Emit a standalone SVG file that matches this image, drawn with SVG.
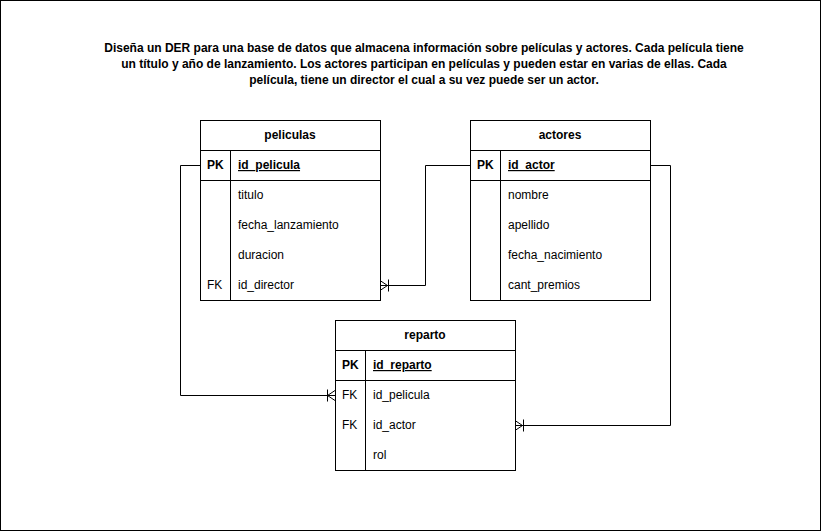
<svg xmlns="http://www.w3.org/2000/svg" width="821" height="531" viewBox="0 0 821 531">
<style>
text{font-family:"Liberation Sans",Arial,sans-serif;font-size:12px;fill:#000}
.b{font-weight:bold}
.h{font-weight:bold;text-anchor:middle}
.k{font-weight:bold;text-decoration:underline}
.box{fill:#fff;stroke:#000;stroke-width:1}
.ln{fill:none;stroke:#000;stroke-width:1}
</style>
<rect x="0.5" y="0.5" width="820" height="530" fill="#fff" stroke="#000"/>
<g id="title">
<text x="424" y="52" class="h">Diseña un DER para una base de datos que almacena información sobre películas y actores. Cada película tiene</text>
<text x="424" y="68" class="h">un título y año de lanzamiento. Los actores participan en películas y pueden estar en varias de ellas. Cada</text>
<text x="424" y="84" class="h">película, tiene un director el cual a su vez puede ser un actor.</text>
</g>
<g id="connectors">
<path class="ln" d="M200.5 165.5H180.5V395.5H335"/>
<path class="ln" d="M327.5 389.5V401.5M335 390.5L327.5 395.5L335 400.5"/>
<path class="ln" d="M470 165.5H425.5V285.5H380"/>
<path class="ln" d="M388.5 279.5V291.5M380 280.5L387.5 285.5L380 290.5"/>
<path class="ln" d="M650 165.5H670.5V425.5H515"/>
<path class="ln" d="M523.5 419.5V431.5M515 420.5L522.5 425.5L515 430.5"/>
</g>
<g id="peliculas">
<rect class="box" x="200.5" y="120.5" width="180" height="180"/>
<path class="ln" d="M200.5 150.5H380.5M200.5 180.5H380.5M230.5 150.5V300.5"/>
<text x="290" y="139" class="h">peliculas</text>
<text x="207" y="169" class="b">PK</text>
<text x="238" y="169" class="k">id_pelicula</text>
<text x="238" y="199">titulo</text>
<text x="238" y="229">fecha_lanzamiento</text>
<text x="238" y="259">duracion</text>
<text x="207" y="289">FK</text>
<text x="238" y="289">id_director</text>
</g>
<g id="actores">
<rect class="box" x="470.5" y="120.5" width="180" height="180"/>
<path class="ln" d="M470.5 150.5H650.5M470.5 180.5H650.5M500.5 150.5V300.5"/>
<text x="560" y="139" class="h">actores</text>
<text x="477" y="169" class="b">PK</text>
<text x="508" y="169" class="k">id_actor</text>
<text x="508" y="199">nombre</text>
<text x="508" y="229">apellido</text>
<text x="508" y="259">fecha_nacimiento</text>
<text x="508" y="289">cant_premios</text>
</g>
<g id="reparto">
<rect class="box" x="335.5" y="320.5" width="180" height="150"/>
<path class="ln" d="M335.5 350.5H515.5M335.5 380.5H515.5M365.5 350.5V470.5"/>
<text x="425" y="339" class="h">reparto</text>
<text x="342" y="369" class="b">PK</text>
<text x="373" y="369" class="k">id_reparto</text>
<text x="342" y="399">FK</text>
<text x="373" y="399">id_pelicula</text>
<text x="342" y="429">FK</text>
<text x="373" y="429">id_actor</text>
<text x="373" y="459">rol</text>
</g>
</svg>
